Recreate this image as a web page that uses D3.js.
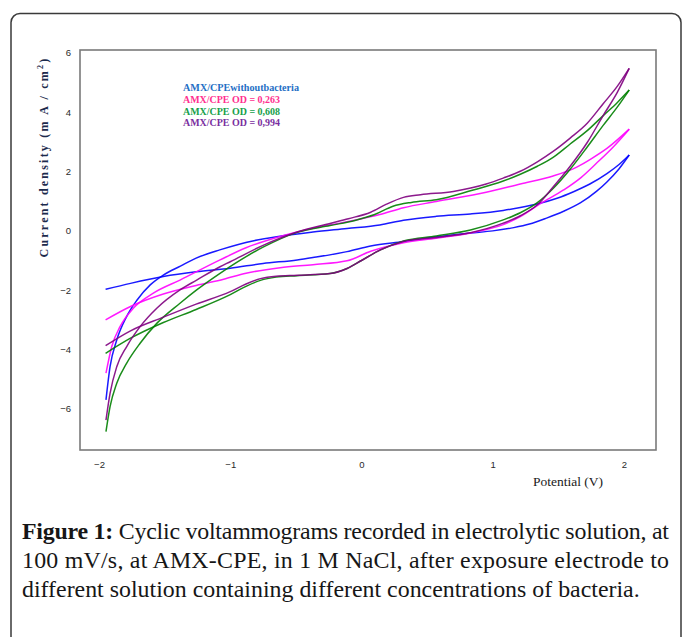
<!DOCTYPE html>
<html><head><meta charset="utf-8">
<script src="https://cdn.jsdelivr.net/npm/d3@7"></script>
<style>html,body{margin:0;padding:0;background:#fff;}svg{display:block;}</style>
</head><body>
<svg id="c" width="683" height="637"></svg>
<script>
// ---------------- DATA ----------------
const seriesNames = ["AMX/CPEwithoutbacteria", "AMX/CPE OD = 0,263", "AMX/CPE OD = 0,608", "AMX/CPE OD = 0,994"];
const xTicks = [-2, -1, 0, 1, 2];
const yTicks = [-6, -4, -2, 0, 2, 4, 6];

// each CV loop: lower branch (from left end towards +2 V) and upper branch (back towards -2 V); [E (V), j (mA/cm2)]
const blueLower = [[-1.95,-1.90],[-1.76,-1.70],[-1.51,-1.47],[-1.26,-1.31],[-1.00,-1.19],[-0.75,-1.03],[-0.49,-0.91],[-0.37,-0.83],[-0.11,-0.63],[0.07,-0.44],[0.32,-0.29],[0.57,-0.13],[0.83,0.00],[1.00,0.07],[1.16,0.18],[1.28,0.30],[1.41,0.50],[1.54,0.73],[1.67,1.02],[1.79,1.40],[1.87,1.72],[1.96,2.15],[2.04,2.63]];
const blueUpper = [[2.04,2.63],[1.96,2.30],[1.87,2.00],[1.74,1.65],[1.62,1.40],[1.49,1.17],[1.36,1.00],[1.20,0.85],[1.08,0.76],[0.83,0.64],[0.57,0.56],[0.32,0.43],[0.14,0.27],[-0.11,0.15],[-0.37,0.03],[-0.62,-0.11],[-0.82,-0.26],[-1.08,-0.57],[-1.26,-0.85],[-1.38,-1.12],[-1.51,-1.42],[-1.61,-1.75],[-1.71,-2.26],[-1.79,-2.82],[-1.865,-3.61],[-1.916,-4.51],[-1.947,-5.63]];

const magentaLower = [[-1.95,-2.93],[-1.76,-2.48],[-1.51,-2.06],[-1.26,-1.77],[-1.05,-1.56],[-0.88,-1.36],[-0.62,-1.17],[-0.37,-1.07],[-0.11,-0.94],[0.07,-0.62],[0.32,-0.33],[0.57,-0.18],[0.83,0.00],[1.08,0.28],[1.21,0.55],[1.36,0.98],[1.54,1.45],[1.67,1.86],[1.79,2.35],[1.92,2.91],[2.04,3.50]];
const magentaUpper = [[2.04,3.50],[1.87,2.85],[1.75,2.50],[1.64,2.22],[1.46,1.92],[1.21,1.65],[0.95,1.37],[0.57,1.06],[0.32,0.85],[0.14,0.62],[-0.11,0.38],[-0.37,0.16],[-0.62,-0.12],[-0.88,-0.50],[-1.078,-0.91],[-1.383,-1.59],[-1.586,-2.03],[-1.739,-2.54],[-1.840,-3.16],[-1.903,-3.83],[-1.947,-4.73]];

const greenLower = [[-1.95,-4.06],[-1.76,-3.55],[-1.51,-3.02],[-1.26,-2.58],[-1.00,-2.08],[-0.88,-1.80],[-0.77,-1.60],[-0.65,-1.49],[-0.49,-1.44],[-0.24,-1.37],[-0.11,-1.20],[0.00,-0.93],[0.14,-0.58],[0.32,-0.27],[0.57,-0.10],[0.83,0.10],[1.08,0.44],[1.21,0.68],[1.34,1.02],[1.46,1.50],[1.59,2.15],[1.72,2.90],[1.84,3.62],[1.95,4.25],[2.04,4.82]];
const greenUpper = [[2.04,4.82],[1.95,4.40],[1.84,3.95],[1.72,3.45],[1.59,3.00],[1.46,2.55],[1.34,2.25],[1.21,1.98],[1.08,1.75],[0.83,1.42],[0.57,1.12],[0.38,1.03],[0.24,0.90],[0.10,0.62],[-0.05,0.42],[-0.24,0.25],[-0.49,0.02],[-0.75,-0.48],[-1.078,-1.36],[-1.256,-1.92],[-1.383,-2.37],[-1.560,-3.05],[-1.687,-3.72],[-1.789,-4.39],[-1.865,-5.07],[-1.916,-5.86],[-1.947,-6.70]];

const purpleLower = [[-1.95,-3.80],[-1.76,-3.30],[-1.51,-2.84],[-1.26,-2.40],[-1.00,-1.98],[-0.88,-1.72],[-0.77,-1.54],[-0.65,-1.46],[-0.49,-1.43],[-0.24,-1.37],[-0.11,-1.20],[0.00,-0.93],[0.14,-0.58],[0.32,-0.29],[0.57,-0.15],[0.83,0.01],[1.08,0.33],[1.21,0.58],[1.34,0.95],[1.46,1.55],[1.59,2.25],[1.72,3.05],[1.84,3.95],[1.95,4.75],[2.04,5.55]];
const purpleUpper = [[2.04,5.55],[1.95,4.95],[1.84,4.35],[1.72,3.70],[1.59,3.20],[1.46,2.75],[1.34,2.40],[1.21,2.08],[1.08,1.85],[0.95,1.65],[0.70,1.40],[0.45,1.29],[0.32,1.20],[0.19,0.97],[0.07,0.70],[-0.10,0.48],[-0.24,0.32],[-0.49,0.03],[-0.75,-0.42],[-1.00,-0.97],[-1.078,-1.14],[-1.256,-1.59],[-1.383,-1.92],[-1.560,-2.54],[-1.687,-3.16],[-1.789,-3.83],[-1.865,-4.51],[-1.916,-5.41],[-1.947,-6.31]];

const captionLines = [
  ["Figure 1:", " Cyclic voltammograms recorded in electrolytic solution, at"],
  ["", "100 mV/s, at AMX-CPE, in 1 M NaCl, after exposure electrode to"],
  ["", "different solution containing different concentrations of bacteria."]
];

// ---------------- DRAW ----------------
const svg = d3.select("#c");
const colors = ["#0000ff", "#ff00ff", "#008000", "#800080"];
const legendColors = ["#1f6fc5", "#ff2f8f", "#16a04a", "#7a2fa0"];
const branches = [[blueLower, blueUpper],[magentaLower, magentaUpper],[greenLower, greenUpper],[purpleLower, purpleUpper]];

// outer frame
svg.append("rect").attr("x", 11).attr("y", 13.5).attr("width", 670).attr("height", 700)
  .attr("rx", 9).attr("fill", "none").attr("stroke", "#3a3a3a").attr("stroke-width", 1.5);

const L = 80, R = 656, T = 50, B = 450;
const x = d3.scaleLinear().domain([-2.145, 2.244]).range([L, R]);
const y = d3.scaleLinear().domain([-7.32, 6.17]).range([B, T]);

// plot box
svg.append("rect").attr("x", L).attr("y", T).attr("width", R - L).attr("height", B - T)
  .attr("fill", "none").attr("stroke", "#7a7a7a").attr("stroke-width", 1.6);

// axes
const gx = svg.append("g").attr("transform", `translate(0,${B + 8})`)
  .call(d3.axisBottom(x).tickValues(xTicks).tickSize(0).tickFormat(d3.format("d")));
const gy = svg.append("g").attr("transform", `translate(${L - 6},0)`)
  .call(d3.axisLeft(y).tickValues(yTicks).tickSize(0).tickFormat(d3.format("d")));
[gx, gy].forEach(g => {
  g.select(".domain").remove();
  g.selectAll("text").attr("font-family", "Liberation Sans, Arial, sans-serif").attr("font-size", 9.5).attr("fill", "#2a2a2a");
});
gy.selectAll("text").attr("dy", "0.1em");

// curves
const line = d3.line().x(d => x(d[0])).y(d => y(d[1])).curve(d3.curveMonotoneX);
branches.forEach((br, i) => {
  br.forEach(b => {
    const pts = b.slice().sort((a, c) => a[0] - c[0]);
    svg.append("path").attr("d", line(pts)).attr("fill", "none")
      .attr("stroke", colors[i]).attr("stroke-width", 1.5).attr("stroke-opacity", 0.9);
  });
});

// legend
const legBase = [91, 103, 114.5, 126];
const legW = [116, 97, 97, 97];
seriesNames.forEach((n, i) => {
  svg.append("text").attr("x", 183).attr("y", legBase[i]).text(n)
    .attr("font-family", "Liberation Serif, Times New Roman, serif").attr("font-weight", "bold")
    .attr("font-size", 10).attr("fill", legendColors[i])
    .attr("textLength", legW[i]).attr("lengthAdjust", "spacingAndGlyphs");
});

// axis titles
const yt = svg.append("text").attr("transform", "translate(48,157) rotate(-90)")
  .attr("text-anchor", "middle").attr("font-family", "Liberation Serif, Times New Roman, serif")
  .attr("font-weight", "bold").attr("font-size", 12).attr("letter-spacing", 2.2).attr("fill", "#1c2a4c");
yt.append("tspan").text("Current density (m A / cm");
yt.append("tspan").text("2").attr("font-size", 8).attr("dy", -5);
yt.append("tspan").text(")").attr("dy", 5);

svg.append("text").attr("x", 568).attr("y", 486).attr("text-anchor", "middle")
  .attr("font-family", "Liberation Serif, Times New Roman, serif").attr("font-size", 13.5)
  .attr("fill", "#1a1a1a").text("Potential (V)");

// caption
const capBase = [539, 568, 597];
const capG = svg.append("g");
let fs = 20;
const probe = capG.append("text").attr("font-family", "Liberation Serif, Times New Roman, serif").attr("font-size", fs).text(captionLines[2][1]);
fs = fs * 618 / probe.node().getComputedTextLength();
probe.remove();
captionLines.forEach((ln, i) => {
  const t = capG.append("text").attr("x", 22).attr("y", capBase[i])
    .attr("font-family", "Liberation Serif, Times New Roman, serif").attr("font-size", fs).attr("fill", "#161616");
  if (ln[0]) t.append("tspan").attr("font-weight", "bold").text(ln[0]);
  t.append("tspan").text(ln[1]);
  if (i < 2) t.attr("textLength", 647).attr("lengthAdjust", "spacing");
});
</script>
</body></html>
